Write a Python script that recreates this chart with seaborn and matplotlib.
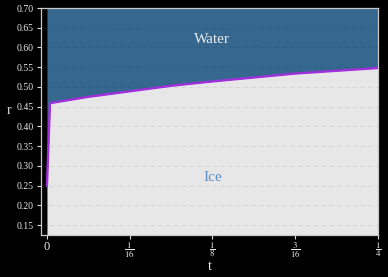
import numpy as np
import pandas as pd
import matplotlib
matplotlib.use('Agg')
import matplotlib.pyplot as plt
import seaborn as sns

# Data
t_vals = [0.0, 0.0023, 0.03125, 0.0625, 0.09375, 0.125, 0.15625, 0.1875, 0.21875, 0.25]
r_vals = [0.25, 0.459, 0.475, 0.489, 0.503, 0.514, 0.524, 0.534, 0.541, 0.548]
x_ticks = [0, 1/16, 1/8, 3/16, 1/4]
x_tick_labels = ['0', r'$\dfrac{1}{16}$', r'$\dfrac{1}{8}$', r'$\dfrac{3}{16}$', r'$\dfrac{1}{4}$']
y_ticks = [0.15, 0.20, 0.25, 0.30, 0.35, 0.40, 0.45, 0.50, 0.55, 0.60, 0.65, 0.70]
y_tick_labels = ['%.2f' % v for v in y_ticks]
region_labels = ['Water', 'Ice']

sns.set_theme(style='dark')
plt.rcParams['font.family'] = ['Liberation Serif', 'DejaVu Serif']
plt.rcParams['mathtext.fontset'] = 'stix'

df = pd.DataFrame({'t': t_vals, 'r': r_vals})

fig = plt.figure(figsize=(3.88, 2.77), dpi=100, facecolor='black')
ax = fig.add_axes([41/388, 1-235/277, (378-41)/388, (235-8)/277])
ax.set_facecolor('black')

water_c = '#35678f'
ice_c = '#e7e7e7'
ymin, ymax = 0.125, 0.70
ax.fill_between(df['t'], df['r'], ymax, color=water_c, lw=0, zorder=1)
ax.fill_between(df['t'], ymin, df['r'], color=ice_c, lw=0, zorder=1)
sns.lineplot(data=df, x='t', y='r', ax=ax, color='#a030dc', lw=1.7, zorder=3)

for y in y_ticks:
    ax.axhline(y, color='black', alpha=0.07, lw=0.8, ls=(0, (4, 3)), zorder=2)

ax.set_xlim(-0.0045, 0.25)
ax.set_ylim(ymin, ymax)
ax.set_xticks(x_ticks)
ax.set_xticklabels(x_tick_labels)
ax.set_yticks(y_ticks)
ax.set_yticklabels(y_tick_labels)
ax.grid(False)

for s in ax.spines.values():
    s.set_visible(True)
    s.set_color('#c8c8c8')
    s.set_linewidth(0.9)
ax.tick_params(axis='both', colors='#dddddd', labelcolor='#e8e8e8', labelsize=7,
               direction='out', length=3, width=0.8, bottom=True, left=True,
               top=False, right=False, pad=2)
ax.tick_params(axis='x', labelsize=6.5, pad=1)
ax.get_xticklabels()[0].set_fontsize(9)

ax.set_xlabel('t', color='#e8e8e8', fontsize=10, labelpad=0)
ax.set_ylabel('r', color='#e8e8e8', fontsize=10, rotation=0, labelpad=10)
ax.yaxis.set_label_coords(-0.095, 0.52)

ax.text(0.125, 0.62, region_labels[0], color='#eaeaea', fontsize=11, ha='center', va='center', zorder=4)
ax.text(0.125, 0.27, region_labels[1], color='#5b8fc3', fontsize=11, ha='center', va='center', zorder=4)

fig.savefig('out.png', dpi=100, facecolor='black')
